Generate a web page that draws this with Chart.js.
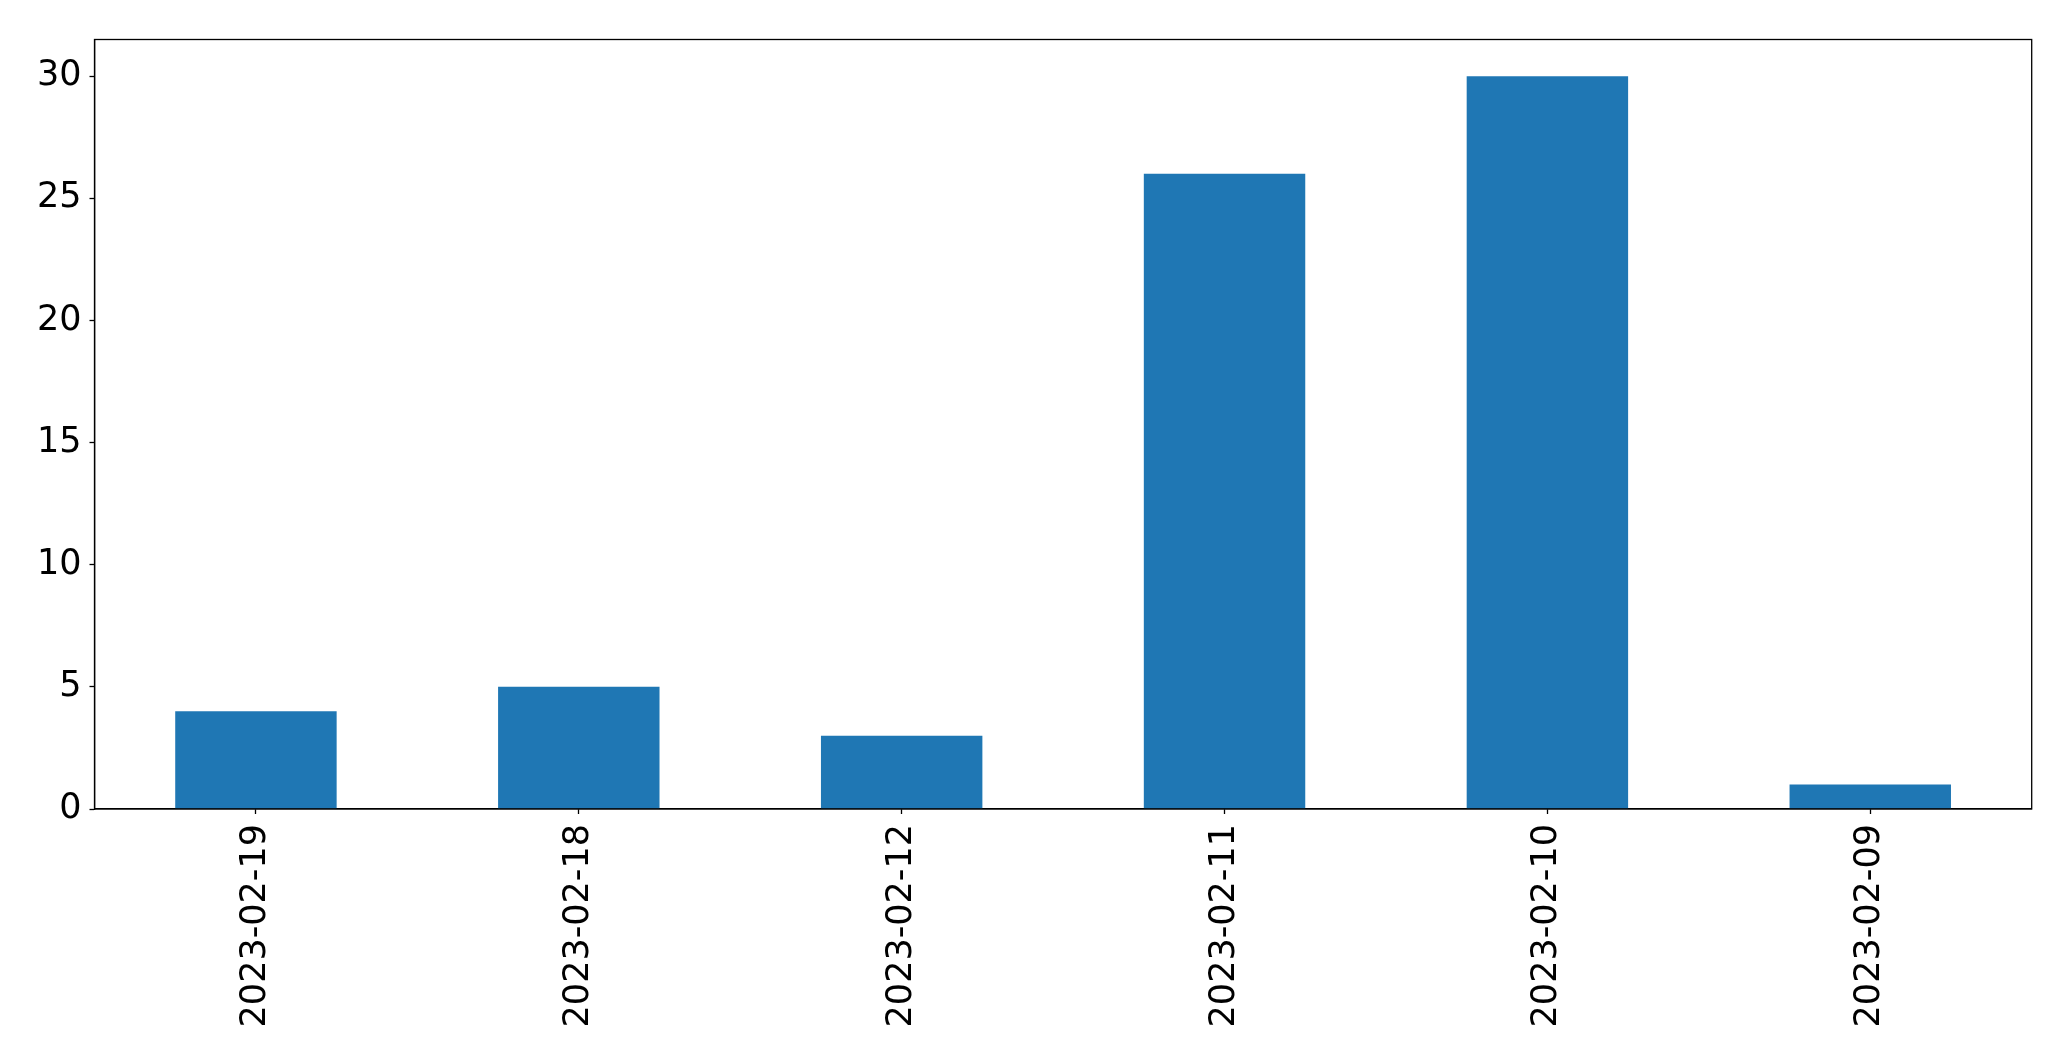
<!DOCTYPE html>
<html>
<head>
<meta charset="utf-8">
<script src="https://cdn.jsdelivr.net/npm/chart.js@4"></script>
<style>
html,body{margin:0;padding:0;background:#fff;}
#wrap{width:2071px;height:1061px;position:relative;}
</style>
</head>
<body>
<div id="wrap"><canvas id="c" width="2071" height="1061"></canvas></div>
<script>
const categories = ["2023-02-19","2023-02-18","2023-02-12","2023-02-11","2023-02-10","2023-02-09"];
const counts = [4, 5, 3, 26, 30, 1];
const yTicks = [0, 5, 10, 15, 20, 25, 30];
const yMax = 31.5;

const frame = {
  id: 'frame',
  afterDraw(chart) {
    const a = chart.chartArea, ctx = chart.ctx;
    ctx.save();
    ctx.strokeStyle = '#000';
    ctx.lineWidth = 1.3;
    ctx.strokeRect(a.left, a.top, a.right - a.left, a.bottom - a.top);
    ctx.restore();
  }
};

new Chart(document.getElementById('c'), {
  type: 'bar',
  data: {
    labels: categories,
    datasets: [{
      data: counts,
      backgroundColor: '#1f77b4',
      borderWidth: 0,
      barPercentage: 0.5,
      categoryPercentage: 1.0
    }]
  },
  options: {
    responsive: false,
    animation: false,
    devicePixelRatio: 1,
    layout: { padding: { top: 39.5, right: 39.3, left: 0, bottom: 0 } },
    plugins: { legend: { display: false }, tooltip: { enabled: false } },
    scales: {
      x: {
        afterFit(s) { s.height = 252; },
        grid: { offset: false, drawOnChartArea: false, drawTicks: true, tickLength: 5, tickColor: '#000', tickWidth: 1.3 },
        border: { display: true, color: '#000', width: 1.3 },
        ticks: { color: '#000', font: { family: 'DejaVu Sans', size: 35 }, maxRotation: 90, minRotation: 90, padding: 10, autoSkip: false }
      },
      y: {
        min: 0, max: yMax,
        afterFit(s) { s.width = 94.5; },
        afterBuildTicks(s) { s.ticks = yTicks.map(v => ({ value: v })); },
        grid: { drawOnChartArea: false, drawTicks: true, tickLength: 5, tickColor: '#000', tickWidth: 1.3 },
        border: { display: true, color: '#000', width: 1.3 },
        ticks: { color: '#000', font: { family: 'DejaVu Sans', size: 35 }, padding: 8 }
      }
    }
  },
  plugins: [frame]
});
</script>
</body>
</html>
